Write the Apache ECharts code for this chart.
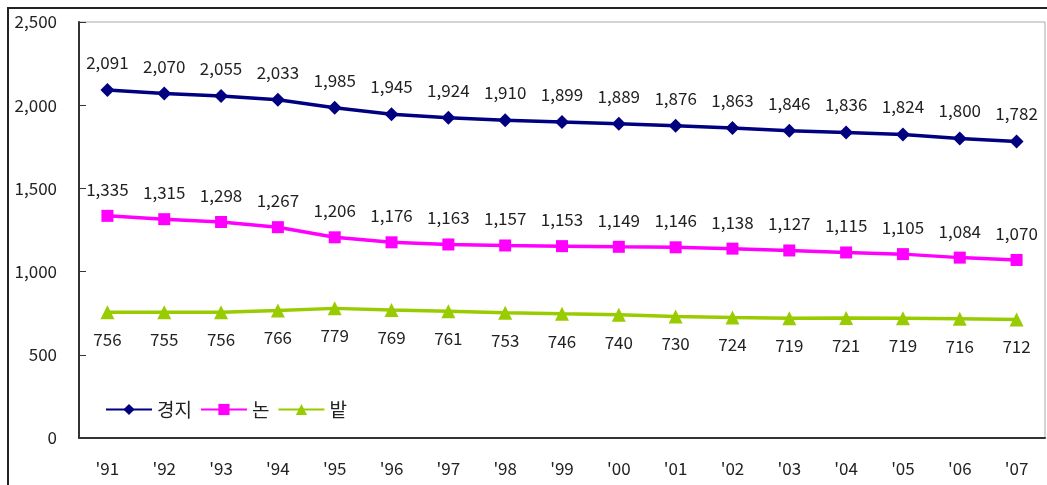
<!DOCTYPE html>
<html>
<head>
<meta charset="utf-8">
<script src="https://cdn.jsdelivr.net/npm/echarts@6/dist/echarts.min.js"></script>
<style>
  html, body { margin: 0; padding: 0; background: #fff; }
  #frame { position: absolute; left: 7px; top: 7px; width: 1040px; height: 478px;
           border-left: 2px solid #222; border-top: 2px solid #222; box-sizing: border-box; }
  #chart { position: absolute; left: 0; top: 0; width: 1047px; height: 485px; }
</style>
</head>
<body>
<div id="frame"></div>
<div id="chart"></div>
<script>
const years = ["'91", "'92", "'93", "'94", "'95", "'96", "'97", "'98", "'99", "'00", "'01", "'02", "'03", "'04", "'05", "'06", "'07"]
const total = [2091, 2070, 2055, 2033, 1985, 1945, 1924, 1910, 1899, 1889, 1876, 1863, 1846, 1836, 1824, 1800, 1782]
const paddy = [1335, 1315, 1298, 1267, 1206, 1176, 1163, 1157, 1153, 1149, 1146, 1138, 1127, 1115, 1105, 1084, 1070]
const field = [756, 755, 756, 766, 779, 769, 761, 753, 746, 740, 730, 724, 719, 721, 719, 716, 712]

const font = '"Noto Sans CJK KR", "DejaVu Sans", sans-serif'

const chart = echarts.init(document.getElementById('chart'), null, { renderer: 'canvas' })

const labelStyle = (pos) => ({
  show: true,
  position: pos,
  distance: 12,
  color: '#222',
  fontSize: 17,
  fontFamily: font,
  formatter: p => p.value.toLocaleString('en-US')
})

chart.setOption({
  animation: false,
  grid: { left: 79, right: 2, top: 22, bottom: 47, show: true, borderColor: '#aaa', borderWidth: 1 },
  legend: {
    left: 100, top: 395,
    itemWidth: 46, itemHeight: 14, itemGap: 8,
    textStyle: { fontSize: 19, fontFamily: font, color: '#222' },
    data: ['경지', '논', '밭']
  },
  xAxis: {
    type: 'category',
    data: years,
    boundaryGap: true,
    axisLine: { lineStyle: { color: '#333', width: 2 } },
    axisTick: { inside: true, length: 7, lineStyle: { color: '#333' } },
    axisLabel: { color: '#222', fontSize: 17, fontFamily: font, margin: 22 }
  },
  yAxis: {
    type: 'value',
    min: 0, max: 2500, interval: 500,
    axisLine: { show: true, lineStyle: { color: '#333', width: 2 } },
    axisTick: { show: true, inside: true, length: 7, lineStyle: { color: '#333' } },
    splitLine: { show: false },
    axisLabel: { color: '#222', fontSize: 17, fontFamily: font, margin: 22,
                 formatter: v => v.toLocaleString('en-US') }
  },
  series: [
    {
      name: '경지', type: 'line', data: total,
      symbol: 'diamond', symbolSize: 14,
      lineStyle: { color: '#000080', width: 3.5 },
      itemStyle: { color: '#000080' },
      label: labelStyle('top')
    },
    {
      name: '논', type: 'line', data: paddy,
      symbol: 'rect', symbolSize: 12,
      lineStyle: { color: '#ff00ff', width: 3.5 },
      itemStyle: { color: '#ff00ff' },
      label: labelStyle('top')
    },
    {
      name: '밭', type: 'line', data: field,
      symbol: 'triangle', symbolSize: 14,
      lineStyle: { color: '#99cc00', width: 3.5 },
      itemStyle: { color: '#99cc00' },
      label: labelStyle('bottom')
    }
  ]
})
</script>
</body>
</html>
